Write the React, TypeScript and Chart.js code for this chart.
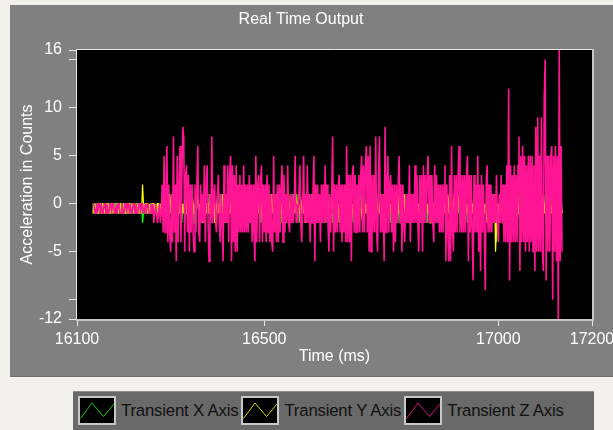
import React, { useEffect, useRef } from 'react';
import { Chart, registerables } from 'chart.js';

Chart.register(...registerables);

const FONT = "'Liberation Sans', Arial, sans-serif";

const TITLE = 'Real Time Output';
const X_TITLE = 'Time (ms)';
const Y_TITLE = 'Acceleration in Counts';

const SERIES_LABELS = ['Transient X Axis', 'Transient Y Axis', 'Transient Z Axis'];
const SERIES_COLORS = ['#00ff00', '#ffff00', '#ff1493'];
const SERIES_LINE_WIDTHS = [1.2, 1.2, 1.6];
const LEGEND_LINE_COLORS = ['#14c814', '#d2d200', '#d8127c'];

const X_MIN = 16100;
const X_MAX = 17200;
const Y_MIN = -12;
const Y_MAX = 16;
const X_TICKS = [16100, 16500, 17000, 17200];
const Y_TICKS = [16, 15, 10, 5, 0, -5, -10, -12];
const Y_LABELED_TICKS = [16, 10, 5, 0, -5, -12];

// samples every 2 ms starting at 16134 ms
const SAMPLE_START_MS = 16134;
const SAMPLE_STEP_MS = 2;

const X_AXIS_VALUES = [
  0,-1,-1,0,-1,0,0,-1,0,-1, -1,0,0,-1,0,-1,-1,0,0,-1, -1,0,-1,0,0,-1,0,-1,-1,0,
  0,-1,0,-1,-1,0,0,-1,0,-1, -1,0,-1,-1,0,-1,0,0,-1,0, -1,-1,0,-2,-1,0,-1,-1,0,-1,
  0,-1,0,0,-1,-1,0,-1,0,-1, -1,0,-1,0,
  -1,0,0,-1,1,-1,0,-2,0,-1,0,1,-1,0,-1,0,-1,0,1,-1,
  0,-2,0,-1,1,0,-1,0,-1,0,1,-1,-1,0,-2,0,-1,1,0,-1,
  0,-1,1,-1,0,-1,-2,0,0,-1,1,0,-1,0,-1,1,-1,0,-2,0,
  0,-1,1,-1,0,-2,0,-1,0,1,-1,0,-1,0,-1,1,-1,-2,0,0,
  -1,1,-1,0,-1,0,-2,0,1,-1,0,-1,0,-1,1,0,-1,-2,0,-1,
  1,-1,0,-1,0,-2,0,1,-1,0,-1,0,-1,1,0,-1,-2,0,-1,0,
  0,-1,1,0,-1,-1,0,-2,0,1,-1,0,-1,0,1,-1,0,-1,-2,0,
  1,-1,0,-1,0,1,-1,-2,0,-1,0,-1,1,0,-1,0,-2,0,-1,1,
  -1,0,-1,0,1,-1,0,-2,0,-1,0,1,-1,0,-1,-2,0,1,-1,0,
  0,-1,-2,0,1,-1,0,-1,0,-1,1,0,-1,-2,0,-1,0,1,-1,0,
  1,-1,0,-1,-2,0,-1,0,1,-1,0,-1,0,1,-1,-2,0,-1,0,-1,
  -1,0,1,-1,0,-1,-2,0,1,0,-1,0,-1,1,-1,0,-2,0,-1,0,
  0,-1,1,-1,-2,0,-1,0,1,-1,0,-1,0,-2,1,-1,0,-1,0,1,
  -1,0,-1,0,-2,1,-1,0,-1,0,1,-1,0,-2,0,-1,0,1,-1,0,
  0,-1,1,-2,0,-1,0,-1,1,0,-1,0,-2,0,-1,1,-1,0,-1,0,
  -2,0,1,-1,0,-1,0,1,-1,-2,0,-1,0,1,-1,0,-1,0,-2,1,
  -1,0,-1,1,0,-1,-2,0,-1,0,1,-1,0,-1,0,-2,1,-1,0,-1,
  1,0,-1,-2,0,-1,0,1,-1,0,-1,0,-2,0,1,-1,-2,-4,0,-1,
  0,-1,1,0,-1,-2,0,-1,0,1,-1,0,-1,-2,0,1,-1,0,-1,0,
  1,-1,-2,0,-1,0,1,-1,0,-1,0,-2,1,-1,0,-1,0,1,-1,-2,
  0,-1,0,1,-1,0,-2,0,-1,1,-1,0,-1,0,-2,1,-1,0,-1,0,
  1,-1,0,-2,0,-1,1,-1,
];

const Y_AXIS_VALUES = [
  -1,0,0,-1,0,-1,-1,0,0,-1, 0,0,-1,0,-1,0,0,-1,-1,0, 0,-1,0,-1,-1,0,0,-1,0,0,
  -1,0,-1,0,0,-1,-1,0,-1,0, 0,-1,0,0,-1,0,-1,-1,0,-1, 0,0,-1,2,0,-1,0,0,-1,0,
  -1,0,-1,-1,0,0,-1,0,-1,0, 0,-1,0,-1,
  0,-1,1,-1,0,-2,0,-1,1,0,-1,0,-1,1,-1,0,-2,0,-1,0,
  1,-1,0,-1,0,1,-1,-1,0,-2,0,-1,1,0,-1,0,-1,0,1,-1,
  0,-1,0,-2,1,-1,0,-1,0,0,-1,1,-1,0,-1,0,-2,0,-1,1,
  -1,0,-1,0,1,-1,-1,0,-2,0,0,-1,1,-1,0,-1,0,-1,1,0,
  -1,0,-2,0,-1,1,-1,0,-1,0,0,-1,1,-1,-2,0,-1,0,1,-1,
  0,-1,0,-1,1,0,-1,-2,0,-1,0,1,-1,0,-1,0,-1,1,-1,0,
  -1,0,1,-1,0,-2,0,-1,0,-1,1,0,-1,0,-1,1,-1,0,-2,0,
  -1,0,-1,1,0,-1,0,-1,-1,0,1,-1,0,-2,0,-1,1,-1,0,-1,
  0,1,-1,0,-1,-2,0,-1,1,0,-1,0,-1,1,-1,0,0,-1,-2,0,
  -1,1,0,-1,0,-1,1,-1,0,-2,0,-1,0,1,-1,0,-1,0,-1,1,
  -1,0,-2,0,-1,1,0,-1,0,-1,1,-1,0,-1,-2,0,1,-1,0,-1,
  0,-1,1,0,-1,-2,0,-1,0,1,-1,0,-1,0,1,-1,-1,0,-2,0,
  1,-1,0,-1,0,-1,1,0,-1,0,-2,0,-1,1,-1,0,-1,0,1,-1,
  0,-2,0,-1,1,-1,0,-1,0,1,-1,0,-1,-2,0,-1,1,0,-1,0,
  -1,1,-1,0,-1,0,-2,0,1,-1,0,-1,0,-1,1,-1,0,-2,0,-1,
  1,0,-1,0,-1,1,-1,0,-2,0,-1,0,1,-1,0,-1,0,1,-1,-2,
  0,-1,0,1,-1,0,-1,0,-2,0,1,-1,0,-1,0,-1,1,-1,0,-2,
  0,-1,1,0,-1,0,-1,-2,0,1,-1,0,-1,0,-1,1,-5,-2,0,-1,
  0,1,-1,1,-2,0,-1,0,1,-1,0,-2,0,-1,1,-1,0,-1,0,1,
  -1,0,-2,0,-1,1,-1,0,-1,0,1,-1,-2,0,-1,0,1,-1,0,-1,
  0,-2,1,-1,0,-1,0,1,-1,0,-2,0,-1,1,-1,0,-1,0,1,-1,
  0,-2,0,-1,1,-1,0,-1,
];

const Z_AXIS_VALUES = [
  0,0,-1,-1,0,-1,0,0,-1,0, -1,-1,0,0,-1,0,-1,-1,0,0, -1,0,0,-1,-1,0,-1,0,0,-1,
  -1,0,-1,-1,0,0,-1,0,0,-1, 0,-1,-1,0,0,-1,0,-1,-1,0, 0,-1,0,0,-1,-1,0,-1,0,0,
  -1,-1,0,-1,0,-2,-1,0,-1,-2, -1,0,-2,-1,
  2,-3,5,-3,1,6,-4,2,-3,-5,
  1,-4,7,-3,2,-6,5,-4,2,6,
  -4,3,8,7,-5,3,4,-3,3,-5,
  2,-3,2,-3,-5,2,-3,2,6,-3,
  -4,2,-2,1,-2,4,-4,2,4,-2,
  -6,1,-2,7,-2,1,2,-2,-3,1,
  3,-2,-4,1,-2,-6,4,-2,1,-2,
  4,-4,3,5,-6,4,-4,3,-5,4,
  -5,2,-3,3,-3,2,-3,4,-3,2,
  -3,2,-3,3,-2,2,-4,2,-3,-6,
  5,-4,2,3,-4,2,4,-4,2,-3,
  2,-4,3,-3,2,-4,1,-4,-5,5,
  -3,1,-4,2,-4,2,-3,2,4,-4,
  3,-3,1,-2,4,-2,-3,1,-2,1,
  -2,0,5,-2,0,-2,1,4,-2,-4,
  0,5,-2,1,-2,4,-2,1,-4,1,
  -2,1,5,-6,2,-2,2,-2,1,-4,
  2,-2,2,-2,4,-2,2,-2,-5,1,
  -3,1,7,-5,2,-3,2,-3,2,3,
  -3,2,-4,2,-3,2,-4,6,-4,3,
  -4,3,-6,3,4,-3,3,-3,2,-3,
  3,-3,3,5,-3,4,-3,4,6,-3,
  5,-5,6,-5,3,-3,3,-3,7,-3,
  -5,3,7,-3,1,-3,1,-6,8,-3,
  2,5,-3,2,3,-3,2,-5,2,-4,
  2,-2,2,5,-2,2,-5,2,-2,-4,
  1,-2,1,-2,4,-4,1,-2,1,-2,
  4,-2,3,-2,-5,3,-2,3,-5,4,
  -2,3,-2,3,5,-2,3,-2,3,-2,
  -4,4,-2,3,-2,2,-3,2,-3,2,
  -3,2,4,-6,2,-3,-6,3,-6,6,
  -3,-5,3,-3,3,-3,3,6,-3,3,
  -3,3,-3,3,-3,3,5,-6,3,-3,
  3,-3,-8,3,-3,2,-3,5,-5,2,
  -7,3,-3,2,-3,-9,2,4,-3,2,
  -3,2,-3,1,-2,1,-2,3,-2,-4,
  1,-2,3,-2,2,-4,2,-4,4,-4,
  12,-8,4,-4,3,-4,4,-4,3,-4,
  4,7,-7,5,-4,6,-4,5,-5,4,
  -4,5,-5,5,-4,5,-5,4,-7,8,
  -5,9,-5,5,-5,9,-5,-7,11,15,
  -8,5,-5,5,-5,5,6,-10,5,-5,
  6,-6,5,-12,16,-6,6,-5,
];

const SERIES_VALUES = [X_AXIS_VALUES, Y_AXIS_VALUES, Z_AXIS_VALUES];

function toPoints(values: number[]) {
  return values.map((v, i) => ({ x: SAMPLE_START_MS + i * SAMPLE_STEP_MS, y: v }));
}

const plotFrame = {
  id: 'plotFrame',
  beforeDatasetsDraw(chart: any) {
    const { ctx, chartArea: a } = chart;
    ctx.save();
    ctx.fillStyle = '#000000';
    ctx.fillRect(a.left, a.top, a.right - a.left, a.bottom - a.top);
    ctx.restore();
  },
  afterDatasetsDraw(chart: any) {
    const { ctx, chartArea: a } = chart;
    ctx.save();
    ctx.lineWidth = 1;
    ctx.strokeStyle = '#e6e6e2';
    ctx.beginPath();
    ctx.moveTo(a.left - 0.5, a.bottom + 0.5);
    ctx.lineTo(a.left - 0.5, a.top - 0.5);
    ctx.lineTo(a.right + 0.5, a.top - 0.5);
    ctx.stroke();
    ctx.lineWidth = 2;
    ctx.strokeStyle = '#c8c8c0';
    ctx.beginPath();
    ctx.moveTo(a.right + 1, a.top - 1);
    ctx.lineTo(a.right + 1, a.bottom + 1);
    ctx.lineTo(a.left - 1, a.bottom + 1);
    ctx.stroke();
    ctx.restore();
  },
};

function LegendIcon({ color }: { color: string }) {
  return (
    <svg width={38} height={29} style={{ display: 'block', flex: 'none' }}>
      <rect x={1} y={1} width={36} height={27} fill="#000" stroke="#c8c8c8" strokeWidth={2} />
      <polyline points="2.5,22.5 14,7 25.5,20.5 36,8" fill="none" stroke={color} strokeWidth={1} />
    </svg>
  );
}

export default function App() {
  const canvasRef = useRef<HTMLCanvasElement | null>(null);

  useEffect(() => {
    document.body.style.margin = '0';
    document.body.style.background = '#f2f1ed';
    const canvas = canvasRef.current;
    if (!canvas) return;
    const tickFont = { family: FONT, size: 16, weight: 'normal' as const };
    const chart = new Chart(canvas, {
      type: 'line',
      data: {
        datasets: SERIES_LABELS.map((label, s) => ({
          label,
          data: toPoints(SERIES_VALUES[s]),
          borderColor: SERIES_COLORS[s],
          backgroundColor: SERIES_COLORS[s],
          borderWidth: SERIES_LINE_WIDTHS[s],
          pointRadius: 0,
          tension: 0,
          fill: false,
          order: 3 - s,
        })),
      },
      options: {
        responsive: false,
        animation: false,
        devicePixelRatio: 1,
        layout: { padding: { left: 0, right: 21, top: 0, bottom: 0 } },
        plugins: {
          legend: { display: false },
          tooltip: { enabled: false },
          title: {
            display: true,
            text: TITLE,
            color: '#ffffff',
            font: { family: FONT, size: 16, weight: 'normal' },
            padding: { top: 5.4, bottom: 20.4 },
          },
        },
        scales: {
          x: {
            type: 'linear',
            min: X_MIN,
            max: X_MAX,
            afterBuildTicks: (axis: any) => {
              axis.ticks = X_TICKS.map((v) => ({ value: v }));
            },
            afterFit: (axis: any) => {
              axis.height = 57;
              axis.paddingLeft = 0;
              axis.paddingRight = 0;
            },
            ticks: {
              color: '#ffffff',
              font: tickFont,
              padding: 4,
              autoSkip: false,
              maxRotation: 0,
              callback: (v: any) => String(v),
            },
            grid: { drawOnChartArea: false, drawTicks: true, tickLength: 7, color: '#e8e8e8' },
            border: { display: false },
            title: {
              display: true,
              text: X_TITLE,
              color: '#ffffff',
              font: { family: FONT, size: 16, weight: 'normal' },
              padding: { top: 0, bottom: 9.4 },
            },
          },
          y: {
            type: 'linear',
            min: Y_MIN,
            max: Y_MAX,
            afterBuildTicks: (axis: any) => {
              axis.ticks = Y_TICKS.map((v) => ({ value: v }));
            },
            afterFit: (axis: any) => {
              axis.width = 67;
              axis.paddingTop = 0;
              axis.paddingBottom = 0;
            },
            ticks: {
              color: '#ffffff',
              font: tickFont,
              padding: 7,
              autoSkip: false,
              callback: (v: any) => (Y_LABELED_TICKS.includes(Number(v)) ? String(v) : ''),
            },
            grid: { drawOnChartArea: false, drawTicks: true, tickLength: 8, color: '#e8e8e8' },
            border: { display: false },
            title: {
              display: true,
              text: Y_TITLE,
              color: '#ffffff',
              font: { family: FONT, size: 16, weight: 'normal' },
              padding: { top: 8.4, bottom: 0 },
            },
          },
        },
      },
      plugins: [plotFrame],
    } as any);
    return () => chart.destroy();
  }, []);

  return (
    <div
      style={{
        position: 'relative',
        width: 613,
        height: 430,
        overflow: 'hidden',
        background: '#f2f1ed',
        fontFamily: FONT,
      }}
    >
      <div
        style={{
          position: 'absolute',
          left: 10,
          top: 5,
          width: 603,
          height: 371,
          background: '#808080',
          borderBottom: '1px solid #6c6c6c',
        }}
      >
        <canvas ref={canvasRef} width={603} height={371} style={{ display: 'block', width: 603, height: 371 }} />
      </div>
      <div
        style={{
          position: 'absolute',
          left: 73,
          top: 391,
          width: 521,
          height: 45,
          background: '#696969',
          borderTop: '1px solid #8c8c8c',
          boxSizing: 'border-box',
          display: 'flex',
          alignItems: 'flex-start',
          paddingLeft: 5,
          paddingTop: 4,
        }}
      >
        {SERIES_LABELS.map((label, i) => (
          <div key={label} style={{ display: 'flex', alignItems: 'center', marginRight: 3 }}>
            <LegendIcon color={LEGEND_LINE_COLORS[i]} />
            <span
              style={{
                marginLeft: 5,
                fontSize: 16.8,
                color: '#111111',
                whiteSpace: 'nowrap',
                letterSpacing: -0.2,
              }}
            >
              {label}
            </span>
          </div>
        ))}
      </div>
    </div>
  );
}
